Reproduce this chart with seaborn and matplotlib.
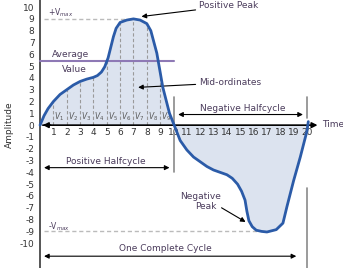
import matplotlib
matplotlib.use("Agg")
import matplotlib.pyplot as plt
import seaborn as sns
import numpy as np

# Waveform samples
pos_x = [0, 0.3, 0.6, 1, 1.5, 2, 2.5, 3, 3.5, 4, 4.3, 4.6, 4.85, 5.1, 5.3, 5.5, 5.7, 6, 6.5, 7, 7.5, 8, 8.3, 8.75, 9.2, 9.7, 10.05]
pos_y = [0, 0.8, 1.4, 2.0, 2.6, 3.0, 3.4, 3.7, 3.9, 4.05, 4.2, 4.5, 4.95, 5.7, 6.6, 7.5, 8.2, 8.7, 8.9, 9.0, 8.9, 8.6, 8.0, 6.1, 3.2, 1.0, 0.0]
neg_x = [10.05, 10.5, 11.0, 11.5, 12.0, 12.5, 13.0, 13.5, 14.0, 14.4, 14.8, 15.1, 15.36, 15.5, 15.65, 15.9, 16.2, 16.6, 17.0, 17.7, 18.2, 18.5, 19.0, 19.5, 20.0, 20.1]
neg_y = [0.0, -1.3, -2.1, -2.7, -3.1, -3.5, -3.8, -4.0, -4.2, -4.5, -5.0, -5.6, -6.35, -7.3, -8.1, -8.6, -8.9, -9.0, -9.05, -8.85, -8.3, -6.9, -4.7, -2.7, -0.5, 0.3]

mid_x = [1, 2, 3, 4, 5, 6, 7, 8, 9]
mid_labels = ["$V_1$", "$V_2$", "$V_3$", "$V_4$", "$V_5$", "$V_6$", "$V_7$", "$V_8$", "$V_9$"]
x_ticks = list(range(1, 21))
y_ticks = list(range(-10, 11))
average_value = 5.4
v_max = 9

sns.set_style("white")
plt.rcParams['font.family'] = ['DejaVu Sans']

fig = plt.figure(figsize=(3.43, 2.68), dpi=100)
ax = fig.add_axes([0, 0, 1, 1])
ax.set_xlim(-3.0, 22.7)
ax.set_ylim(-12.1, 10.6)

txt = "#4b3c5c"
curve_c = "#2b5ba8"
fill_c = "#dce3ef"

# fills
ax.fill_between(pos_x, pos_y, 0, color=fill_c, lw=0, zorder=0.5)
ax.fill_between(neg_x, neg_y, 0, color=fill_c, lw=0, zorder=0.5)

# mid-ordinates
mid_top = np.interp(mid_x, pos_x, pos_y)
for xm, top, lab in zip(mid_x, mid_top, mid_labels):
    ax.plot([xm, xm], [0, top], ls=(0, (3, 2)), color="#9a9a9a", lw=0.8, zorder=0.8)
    ax.text(xm + 0.45, 0.75, lab, fontsize=5.5, color="#555555", ha="center", va="center", zorder=3)

# curve
sns.lineplot(x=pos_x + neg_x[1:], y=pos_y + neg_y[1:], sort=False, color=curve_c, lw=2, ax=ax, zorder=5)

# spines
for s in ["top", "right", "bottom"]:
    ax.spines[s].set_visible(False)
ax.spines["left"].set_position(("data", 0))
ax.spines["left"].set_color("#555555")
ax.spines["left"].set_linewidth(1.4)

ax.set_yticks(y_ticks)
ax.set_yticklabels([str(v) for v in y_ticks])
ax.set_xticks(x_ticks)
ax.set_xticklabels([str(v) for v in x_ticks])
ax.tick_params(axis="both", length=0, labelsize=6.5, colors="#333333")
ax.tick_params(axis="y", pad=4)
ax.xaxis.set_ticks_position("bottom")
ax.spines["bottom"].set_position(("data", 0))
ax.tick_params(axis="x", pad=2)

# x-axis line with arrows
ax.annotate("", xy=(21.0, 0), xytext=(0, 0),
            arrowprops=dict(arrowstyle="-|>", color="black", lw=1.2, mutation_scale=8), zorder=4)
ax.annotate("", xy=(0.0, 0), xytext=(1.0, 0),
            arrowprops=dict(arrowstyle="-|>", color="black", lw=1.2, mutation_scale=8), zorder=4)
ax.text(21.1, 0.05, "Time", fontsize=6.5, color=txt, ha="left", va="center")
ax.text(-2.3, 0, "Amplitude", fontsize=6.5, color="#333333", rotation=90, ha="center", va="center")

# average value
ax.plot([0, 10], [average_value, average_value], color="#8e79b5", lw=1.5, zorder=4)
ax.text(2.3, 6.0, "Average", fontsize=6.5, color=txt, ha="center", va="center")
ax.text(2.6, 4.75, "Value", fontsize=6.5, color=txt, ha="center", va="center")

# Vmax lines
ax.plot([0.3, 7.0], [v_max, v_max], ls=(0, (3, 2)), color="#bbbbbb", lw=1, zorder=0.8)
ax.plot([0.3, 16.3], [-v_max, -v_max], ls=(0, (3, 2)), color="#bbbbbb", lw=1, zorder=0.8)
ax.text(0.6, 9.55, "+V$_{max}$", fontsize=5.5, color=txt, ha="left", va="center")
ax.text(0.6, -8.6, "-V$_{max}$", fontsize=5.5, color=txt, ha="left", va="center")

# Positive peak
ax.annotate("Positive Peak", xy=(7.6, 9.2), xytext=(11.9, 10.1), fontsize=6.5, color=txt,
            ha="left", va="center",
            arrowprops=dict(arrowstyle="-|>", color="black", lw=0.8, mutation_scale=7, shrinkA=0, shrinkB=0))
# Mid-ordinates
ax.annotate("Mid-ordinates", xy=(7.35, 3.2), xytext=(11.9, 3.6), fontsize=6.5, color=txt,
            ha="left", va="center",
            arrowprops=dict(arrowstyle="-|>", color="black", lw=0.8, mutation_scale=7, shrinkA=0, shrinkB=0))
# Negative peak
ax.text(12.0, -6.05, "Negative", fontsize=6.5, color=txt, ha="center", va="center")
ax.text(12.4, -6.85, "Peak", fontsize=6.5, color=txt, ha="center", va="center")
ax.annotate("", xy=(15.4, -8.2), xytext=(13.6, -7.0),
            arrowprops=dict(arrowstyle="-|>", color="black", lw=0.8, mutation_scale=7, shrinkA=0, shrinkB=0))

bar_c = "#8a8a8a"
# Negative halfcycle
ax.plot([10.0, 10.0], [0.2, 2.4], color=bar_c, lw=1.2)
ax.plot([20.0, 20.0], [0.6, 2.4], color=bar_c, lw=1.2)
ax.annotate("", xy=(10.35, 0.9), xytext=(19.7, 0.9),
            arrowprops=dict(arrowstyle="<|-|>", color="black", lw=0.8, mutation_scale=7, shrinkA=0, shrinkB=0))
ax.text(15.2, 1.45, "Negative Halfcycle", fontsize=6.5, color=txt, ha="center", va="center")

# Positive halfcycle
ax.plot([10.0, 10.0], [-0.7, -4.0], color=bar_c, lw=1.2)
ax.annotate("", xy=(0.3, -3.6), xytext=(9.7, -3.6),
            arrowprops=dict(arrowstyle="<|-|>", color="black", lw=0.8, mutation_scale=7, shrinkA=0, shrinkB=0))
ax.text(4.9, -3.05, "Positive Halfcycle", fontsize=6.5, color=txt, ha="center", va="center")

# One complete cycle
ax.plot([20.0, 20.0], [-5.3, -12.1], color=bar_c, lw=1.2)
ax.annotate("", xy=(0.3, -11.1), xytext=(19.2, -11.1),
            arrowprops=dict(arrowstyle="<|-|>", color="black", lw=0.8, mutation_scale=7, shrinkA=0, shrinkB=0))
ax.text(9.4, -10.45, "One Complete Cycle", fontsize=6.5, color=txt, ha="center", va="center")

fig.savefig("out.png", dpi=100)
